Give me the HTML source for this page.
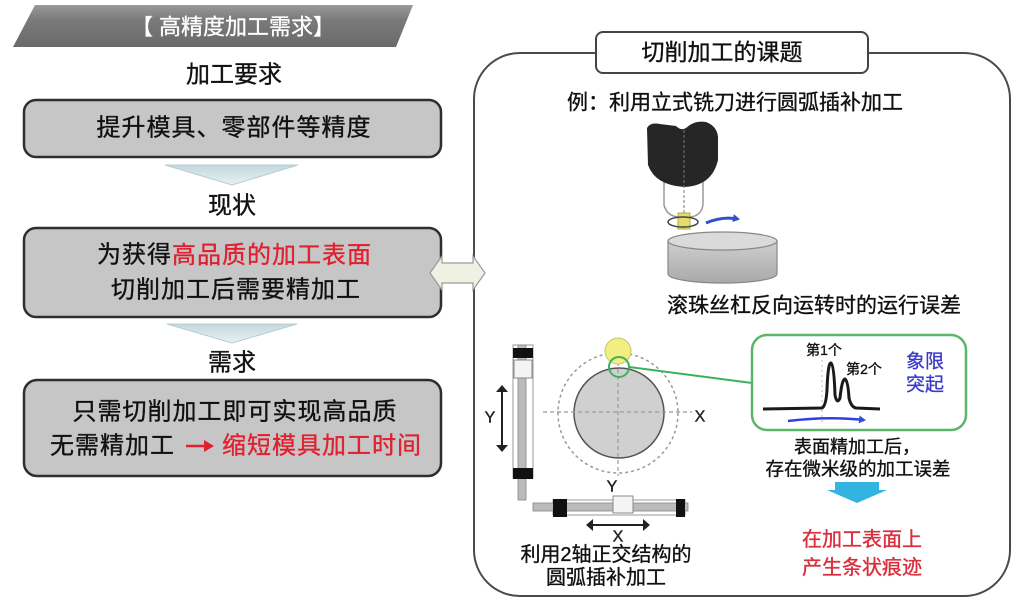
<!DOCTYPE html>
<html><head><meta charset="utf-8"><style>
html,body{margin:0;padding:0;background:#fff;}
svg{display:block;}
text{font-family:"Liberation Sans","Noto Sans CJK SC",sans-serif;}
.t{stroke:#111;stroke-width:0.35;}
.r{stroke:#e0202f;stroke-width:0.35;}
</style></head><body>
<svg width="1024" height="614" viewBox="0 0 1024 614" xmlns="http://www.w3.org/2000/svg">
<defs>
<linearGradient id="ban" x1="0" y1="0" x2="0" y2="1">
<stop offset="0" stop-color="#9a9a9a"/><stop offset="0.35" stop-color="#7a7a7a"/><stop offset="1" stop-color="#6a6a6a"/>
</linearGradient>
<linearGradient id="tri" x1="0" y1="0" x2="0" y2="1">
<stop offset="0" stop-color="#c3d8de"/><stop offset="1" stop-color="#e8f1f3"/>
</linearGradient>
<linearGradient id="cyl" x1="0" y1="0" x2="0" y2="1">
<stop offset="0" stop-color="#cfcfcf"/><stop offset="1" stop-color="#a9a9a9"/>
</linearGradient>
<marker id="bh" markerWidth="10" markerHeight="10" refX="5" refY="4" orient="auto" markerUnits="userSpaceOnUse">
<path d="M0,0 L7,4 L0,8 Z" fill="#3050d0"/>
</marker>
</defs>

<!-- Banner -->
<polygon points="35,5 413,5 396,47 13,47" fill="url(#ban)"/>
<text x="233" y="27" font-size="22" fill="#fff" stroke="#fff" stroke-width="0.3" text-anchor="middle" dominant-baseline="central">【 高精度加工需求】</text>

<text class="t" x="234" y="75" font-size="24" fill="#111" text-anchor="middle" dominant-baseline="central">加工要求</text>

<!-- Box 1 -->
<rect x="24" y="100" width="417" height="57" rx="12" fill="#c6c6c6" stroke="#2e2e2e" stroke-width="2.5"/>
<text class="t" x="234" y="128" font-size="24" fill="#111" text-anchor="middle" dominant-baseline="central" letter-spacing="1">提升模具、零部件等精度</text>

<polygon points="165,165 298,165 232,185" fill="url(#tri)" stroke="#b8cdd2" stroke-width="1"/>
<text class="t" x="232" y="206" font-size="24" fill="#111" text-anchor="middle" dominant-baseline="central">现状</text>

<!-- Box 2 -->
<rect x="24" y="228" width="417" height="89" rx="12" fill="#c6c6c6" stroke="#2e2e2e" stroke-width="2.5"/>
<text class="t" x="97" y="255" font-size="24" fill="#111" dominant-baseline="central" letter-spacing="1">为获得<tspan fill="#e0202f" stroke="#e0202f">高品质的加工表面</tspan></text>
<text class="t" x="236" y="290" font-size="24" fill="#111" text-anchor="middle" dominant-baseline="central" letter-spacing="1">切削加工后需要精加工</text>

<polygon points="167,324 297,324 232,343" fill="url(#tri)" stroke="#b8cdd2" stroke-width="1"/>
<text class="t" x="232" y="363" font-size="24" fill="#111" text-anchor="middle" dominant-baseline="central">需求</text>

<!-- Box 3 -->
<rect x="24" y="380" width="417" height="96" rx="13" fill="#c6c6c6" stroke="#2e2e2e" stroke-width="2.5"/>
<text class="t" x="235" y="412" font-size="24" fill="#111" text-anchor="middle" dominant-baseline="central" letter-spacing="1">只需切削加工即可实现高品质</text>
<text class="t" x="50" y="446" font-size="24" fill="#111" dominant-baseline="central" letter-spacing="1">无需精加工</text>
<line x1="186" y1="446" x2="206" y2="446" stroke="#e0202f" stroke-width="2.5"/>
<polygon points="204,440 214,446 204,452" fill="#e0202f"/>
<text class="r" x="222" y="446" font-size="24" fill="#e0202f" dominant-baseline="central" letter-spacing="1">缩短模具加工时间</text>

<!-- Right panel -->
<rect x="474" y="53" width="536" height="543" rx="46" fill="#fff" stroke="#4a4a4a" stroke-width="2"/>
<rect x="596" y="32" width="272" height="41" rx="7" fill="#fff" stroke="#444" stroke-width="2"/>
<text class="t" x="722" y="52" font-size="23" fill="#111" text-anchor="middle" dominant-baseline="central">切削加工的课题</text>

<!-- Double arrow -->
<polygon points="430,273 442,256 442,263 473,263 473,256 485,273 473,290 473,283 442,283 442,290" fill="#eef2e2" stroke="#9a9a9a" stroke-width="1.2"/>

<text class="t" x="735" y="103" font-size="21" fill="#111" text-anchor="middle" dominant-baseline="central">例：利用立式铣刀进行圆弧插补加工</text>

<!-- Tool illustration -->
<path d="M664,182 L664,205 Q667,216 678,217 L690,217 Q701,216 703,205 L703,182" fill="#fff" stroke="#9a9a9a" stroke-width="1.5"/>
<path d="M647,128 Q650,122 660,124 L676,126 Q681,131 686,128 Q694,120 706,122 Q717,126 718,137 L718,160 Q712,186 684,187 Q655,185 648,165 Z" fill="#262626"/>
<line x1="684" y1="130" x2="684" y2="215" stroke="#777" stroke-width="1" stroke-dasharray="3,2"/>
<path d="M668,241 L668,274 A54.5,9 0 0 0 777,274 L777,241 Z" fill="url(#cyl)" stroke="#888" stroke-width="1.2"/>
<ellipse cx="722.5" cy="241" rx="54.5" ry="9" fill="#dadada" stroke="#888" stroke-width="1.2"/>
<rect x="678" y="213" width="12" height="16" fill="#e6dc6a" stroke="#b0a850" stroke-width="1"/>
<ellipse cx="683" cy="222" rx="15" ry="5" fill="none" stroke="#444" stroke-width="1.5"/>
<path d="M706,223 Q722,216 738,219" fill="none" stroke="#3050d0" stroke-width="3" marker-end="url(#bh)"/>

<text class="t" x="814" y="306" font-size="21" fill="#111" text-anchor="middle" dominant-baseline="central">滚珠丝杠反向运转时的运行误差</text>

<!-- Vertical screw -->
<rect x="513" y="345" width="20" height="133" fill="#fff" stroke="#999" stroke-width="1"/>
<rect x="518" y="345" width="8" height="155" fill="#bbb" stroke="#888" stroke-width="0.8"/>
<rect x="513" y="348" width="20" height="10" fill="#111"/>
<rect x="514" y="360" width="18" height="18" fill="#f4f4f4" stroke="#888" stroke-width="1"/>
<rect x="513" y="468" width="20" height="11" fill="#111"/>
<!-- Y arrow -->
<line x1="502" y1="390" x2="502" y2="447" stroke="#222" stroke-width="2"/>
<polygon points="496,392 502,385 508,392" fill="#222"/>
<polygon points="496,445 502,452 508,445" fill="#222"/>
<text x="490" y="418" font-size="16" fill="#222" stroke="#222" stroke-width="0.4" text-anchor="middle" dominant-baseline="central">Y</text>

<!-- Circle drawing -->
<circle cx="618" cy="413" r="60" fill="none" stroke="#999" stroke-width="1.5" stroke-dasharray="3,3"/>
<circle cx="619" cy="413" r="45" fill="#d0d0d0" stroke="#555" stroke-width="1.5"/>
<line x1="543" y1="412" x2="692" y2="412" stroke="#999" stroke-width="1.2" stroke-dasharray="4,3"/>
<line x1="618" y1="355" x2="618" y2="476" stroke="#999" stroke-width="1.2" stroke-dasharray="4,3"/>
<circle cx="618" cy="351" r="13" fill="#f3ee80" stroke="#c8c070" stroke-width="1"/>
<circle cx="619" cy="367" r="10" fill="none" stroke="#3db060" stroke-width="2"/>
<line x1="629" y1="367" x2="752" y2="383" stroke="#3db060" stroke-width="2"/>
<text x="700" y="417" font-size="16" fill="#222" stroke="#222" stroke-width="0.4" text-anchor="middle" dominant-baseline="central">X</text>
<text x="612" y="487" font-size="16" fill="#222" stroke="#222" stroke-width="0.4" text-anchor="middle" dominant-baseline="central">Y</text>

<!-- Horizontal screw -->
<rect x="553" y="500" width="132" height="15" fill="#fff" stroke="#999" stroke-width="1"/>
<rect x="533" y="503" width="155" height="8" fill="#bbb" stroke="#888" stroke-width="0.8"/>
<rect x="553" y="499" width="14" height="18" fill="#111"/>
<rect x="676" y="499" width="9" height="18" fill="#111"/>
<rect x="613" y="496" width="20" height="17" fill="#f4f4f4" stroke="#888" stroke-width="1"/>
<line x1="591" y1="525" x2="645" y2="525" stroke="#222" stroke-width="2"/>
<polygon points="593,519 586,525 593,531" fill="#222"/>
<polygon points="643,519 650,525 643,531" fill="#222"/>
<text x="618" y="537" font-size="16" fill="#222" stroke="#222" stroke-width="0.4" text-anchor="middle" dominant-baseline="central">X</text>

<text class="t" x="606" y="555" font-size="20" fill="#111" text-anchor="middle" dominant-baseline="central">利用2轴正交结构的</text>
<text class="t" x="606" y="578" font-size="20" fill="#111" text-anchor="middle" dominant-baseline="central">圆弧插补加工</text>

<!-- Green box -->
<rect x="752" y="335" width="214" height="95" rx="15" fill="#fff" stroke="#5cb56a" stroke-width="2.5"/>
<line x1="822" y1="360" x2="822" y2="425" stroke="#bbb" stroke-width="1" stroke-dasharray="2,3"/>
<path d="M763,409 L822,408 Q826,406 827,390 Q828,362 831,363 Q834,365 835,395 Q837,405 840,398 Q842,379 845,379 Q848,381 849,398 Q851,407 856,408 L880,409" fill="none" stroke="#1a1a1a" stroke-width="3"/>
<path d="M788,421 Q828,416 864,420" fill="none" stroke="#3040e0" stroke-width="2.5" marker-end="url(#bh)"/>
<text class="t" x="824" y="350" font-size="14" fill="#111" text-anchor="middle" dominant-baseline="central">第1个</text>
<text class="t" x="864" y="369" font-size="14" fill="#111" text-anchor="middle" dominant-baseline="central">第2个</text>
<text x="925" y="362" font-size="19" fill="#3a3ac8" stroke="#3a3ac8" stroke-width="0.3" text-anchor="middle" dominant-baseline="central">象限</text>
<text x="925" y="385" font-size="19" fill="#3a3ac8" stroke="#3a3ac8" stroke-width="0.3" text-anchor="middle" dominant-baseline="central">突起</text>

<text class="t" x="857" y="447" font-size="18" fill="#111" text-anchor="middle" dominant-baseline="central">表面精加工后，</text>
<text class="t" x="858" y="469" font-size="18.5" fill="#111" text-anchor="middle" dominant-baseline="central">存在微米级的加工误差</text>

<polygon points="835,482 879,482 879,490 887,490 857,503 827,490 835,490" fill="#33b3e0"/>

<text class="r" x="862" y="540" font-size="20" fill="#d83040" text-anchor="middle" dominant-baseline="central">在加工表面上</text>
<text class="r" x="862" y="568" font-size="20" fill="#d83040" text-anchor="middle" dominant-baseline="central">产生条状痕迹</text>
</svg>
</body></html>
